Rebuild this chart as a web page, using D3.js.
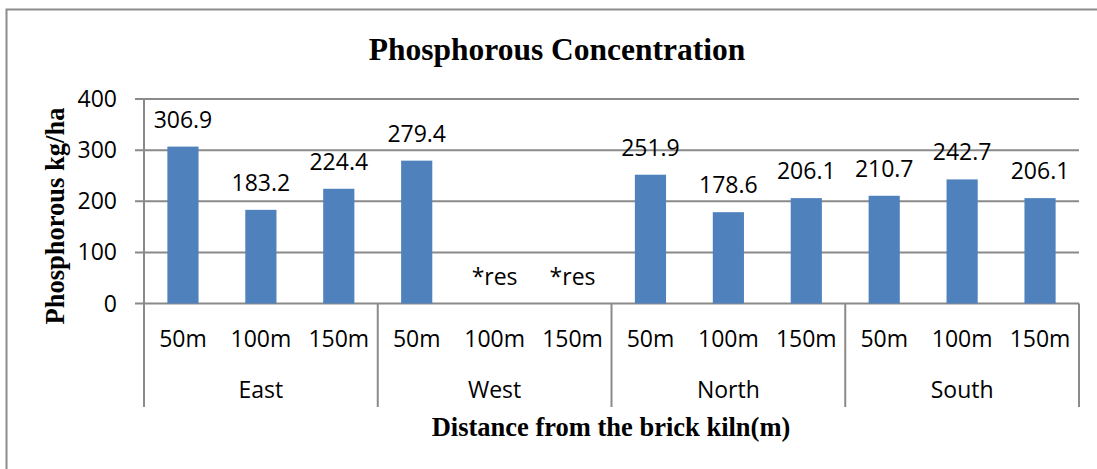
<!DOCTYPE html>
<html>
<head>
<meta charset="utf-8">
<script src="https://cdn.jsdelivr.net/npm/d3@7"></script>
<style>
  html, body { margin: 0; background: #fff; overflow: hidden; }
  svg { display: block; }
  svg text { fill: #000; }
  .lbl { font-family: "Open Sans", sans-serif; font-size: 23px; }
  .ttl { font-family: "Liberation Serif", "Times New Roman", serif; font-weight: bold; }
</style>
</head>
<body>
<svg id="chart" width="1097" height="469"></svg>
<script>
// values; null = no reading ("*res")
var groups = ["East", "West", "North", "South"];
var distances = ["50m", "100m", "150m"];
var eastVals = [306.9, 183.2, 224.4];
var westVals = [279.4, null, null];
var northVals = [251.9, 178.6, 206.1];
var southVals = [210.7, 242.7, 206.1];
var yTicks = [0, 100, 200, 300, 400];

var seriesByGroup = [eastVals, westVals, northVals, southVals];

// flatten into one row per bar slot
var rows = [];
groups.forEach(function(g, gi) {
  distances.forEach(function(d, di) {
    rows.push({group: g, dist: d, key: g + "|" + d, value: seriesByGroup[gi][di]});
  });
});

var svg = d3.select("#chart");
// note: "top" is taken by window.top, so use plotTop
var plotLeft = 144, plotRight = 1079, plotTop = 99, plotBottom = 303.5, axisLow = 407;
var gridColor = "#8a8a8a";

// outer chart border: only top and left edges are inside the picture
svg.append("path")
  .attr("d", "M 1097 9.5 H 6.5 V 469")
  .attr("fill", "none").attr("stroke", "#8c8c8c").attr("stroke-width", 2);

var x = d3.scaleBand()
  .domain(rows.map(function(r) { return r.key; }))
  .range([plotLeft, plotRight])
  .paddingInner(0.6)
  .paddingOuter(0.3);

var y = d3.scaleLinear().domain([0, 400]).range([plotBottom, plotTop]);

// gridlines + little tick marks on the left
svg.append("g").selectAll("line")
  .data(yTicks)
  .join("line")
    .attr("x1", plotLeft - 9).attr("x2", plotRight)
    .attr("y1", function(d) { return y(d); })
    .attr("y2", function(d) { return y(d); })
    .attr("stroke", gridColor).attr("stroke-width", 2);

svg.append("g").selectAll("text")
  .data(yTicks)
  .join("text")
    .attr("class", "lbl")
    .attr("x", 117)
    .attr("y", function(d) { return y(d); })
    .attr("dy", "0.35em")
    .attr("text-anchor", "end")
    .text(function(d) { return d; });

// bars
svg.append("g").selectAll("rect")
  .data(rows.filter(function(r) { return r.value != null; }))
  .join("rect")
    .attr("x", function(r) { return x(r.key); })
    .attr("width", x.bandwidth())
    .attr("y", function(r) { return y(r.value); })
    .attr("height", function(r) { return y(0) - y(r.value); })
    .attr("fill", "#4f81bd");

// data labels, *res where there is no value
svg.append("g").selectAll("text")
  .data(rows)
  .join("text")
    .attr("class", "lbl")
    .attr("x", function(r) { return x(r.key) + x.bandwidth() / 2; })
    .attr("y", function(r) { return y(r.value == null ? 0 : r.value) - 19; })
    .attr("text-anchor", "middle")
    .text(function(r) { return r.value == null ? "*res" : d3.format(".1f")(r.value); });

// axis lines: left axis and group separators run down past the baseline
var slot = (plotRight - plotLeft) / rows.length;
var seps = d3.range(groups.length + 1).map(function(i) { return plotLeft + i * slot * distances.length; });
svg.append("g").selectAll("line")
  .data(seps)
  .join("line")
    .attr("x1", function(d) { return d; }).attr("x2", function(d) { return d; })
    .attr("y1", function(d, i) { return i == 0 ? plotTop : plotBottom; })
    .attr("y2", axisLow)
    .attr("stroke", gridColor).attr("stroke-width", 2);

// distance labels under each slot
svg.append("g").selectAll("text")
  .data(rows)
  .join("text")
    .attr("class", "lbl")
    .attr("x", function(r) { return x(r.key) + x.bandwidth() / 2; })
    .attr("y", 347)
    .attr("text-anchor", "middle")
    .text(function(r) { return r.dist; });

// group labels
svg.append("g").selectAll("text")
  .data(groups)
  .join("text")
    .attr("class", "lbl")
    .attr("x", function(g, i) { return (seps[i] + seps[i + 1]) / 2; })
    .attr("y", 398)
    .attr("text-anchor", "middle")
    .text(function(g) { return g; });

// titles
svg.append("text")
  .attr("class", "ttl")
  .attr("x", 557).attr("y", 60)
  .attr("text-anchor", "middle")
  .style("font-size", "31.5px")
  .text("Phosphorous Concentration");

svg.append("text")
  .attr("class", "ttl")
  .attr("x", 611).attr("y", 436)
  .attr("text-anchor", "middle")
  .style("font-size", "26.5px")
  .text("Distance from the brick kiln(m)");

svg.append("text")
  .attr("class", "ttl")
  .attr("transform", "translate(64,216) rotate(-90)")
  .attr("text-anchor", "middle")
  .style("font-size", "26.5px")
  .text("Phosphorous kg/ha");
</script>
</body>
</html>
